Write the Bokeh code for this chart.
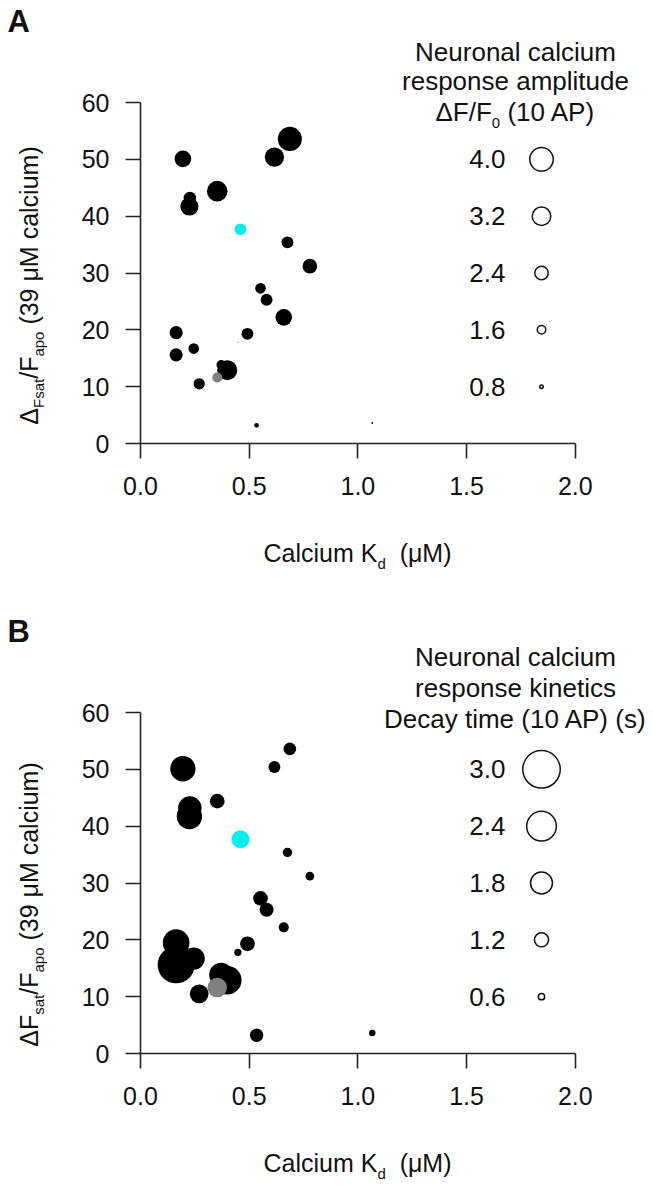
from math import pi
from bokeh.plotting import figure
from bokeh.models import Label, FixedTicker, ColumnDataSource, PrintfTickFormatter
from bokeh.layouts import column
from bokeh.embed import file_html
from bokeh.resources import INLINE
from bokeh.core.properties import value

# ---------------- data ----------------
kd_um = [0.195, 0.227, 0.225, 0.353, 0.616, 0.687, 0.676, 0.779, 0.552, 0.580,
         0.659, 0.164, 0.492, 0.448, 0.245, 0.164, 0.371, 0.399, 0.270, 0.534,
         1.066, 0.353, 0.460]
dfsat_fapo = [50.1, 43.2, 41.7, 44.4, 50.4, 53.6, 35.4, 31.2, 27.3, 25.3,
              22.2, 19.5, 19.3, 17.8, 16.7, 15.6, 13.85, 12.9, 10.5, 3.2,
              3.6, 11.6, 37.7]
amplitude_dff0 = [2.67, 2.0, 2.9, 3.3, 3.1, 3.85, 1.9, 2.35, 1.7, 1.9,
                  2.67, 2.1, 1.9, 0.15, 1.7, 2.1, 1.5, 3.2, 1.8, 0.75,
                  0.3, 1.6, 1.87]
decay_time_s = [1.95, 1.8, 1.95, 1.13, 0.92, 0.97, 0.72, 0.67, 1.13, 1.08,
                0.77, 2.05, 1.13, 0.56, 1.7, 2.85, 1.85, 2.2, 1.45, 1.03,
                0.5, 1.5, 1.38]
group = ["variant"] * 21 + ["parent", "highlighted"]

x_ticks = [0.0, 0.5, 1.0, 1.5, 2.0]
y_ticks = [0, 10, 20, 30, 40, 50, 60]
amp_legend = [4.0, 3.2, 2.4, 1.6, 0.8]
decay_legend = [3.0, 2.4, 1.8, 1.2, 0.6]

# ---------------- styling / layout ----------------
GROUP_COLOR = {"variant": "#000000", "parent": "#808080", "highlighted": "#00F0F0"}
FONT = "Liberation Sans"
TXT = "#111111"
AX = "#222222"
FIG_W = 653
X0_PX = 140          # page x of Kd = 0
PX_PER_X = 217.4
PX_PER_Y = 5.683
BASE_FIX = 0.44      # label baseline correction (em)

W = {' ': 278, '(': 333, ')': 333, '.': 278, '/': 278,
     'A': 667, 'B': 667, 'C': 722, 'D': 722, 'F': 611, 'K': 667, 'M': 833,
     'N': 722, 'P': 667, 'a': 556, 'c': 500, 'd': 556, 'e': 556, 'i': 222,
     'k': 500, 'l': 222, 'm': 833, 'n': 556, 'o': 556, 'p': 556, 'r': 333,
     's': 500, 't': 278, 'u': 556, 'y': 500, 'μ': 576, 'Δ': 668}
for d in "0123456789":
    W[d] = 556


def tw(s, size):
    return sum(W.get(c, 556) for c in s) / 1000.0 * size


def make_panel(oy, height, y0_px, scale_px, sizes, ylabel_pieces, ylab_center,
               title_lines, title_baselines, letter, legend_vals):
    def X(sx):
        return (sx - X0_PX) / PX_PER_X

    def Y(sy):
        return (y0_px - sy) / PX_PER_Y

    p = figure(width=FIG_W, height=height,
               x_range=(X(0), X(FIG_W)), y_range=(Y(oy + height), Y(oy)),
               output_backend="svg", toolbar_location=None,
               min_border_left=0, min_border_right=0,
               min_border_top=0, min_border_bottom=0)
    p.grid.visible = False
    p.outline_line_color = None

    for ax in (p.xaxis[0], p.yaxis[0]):
        ax.fixed_location = 0
        ax.axis_line_color = AX
        ax.axis_line_width = 1.6
        ax.major_tick_line_color = AX
        ax.major_tick_line_width = 1.6
        ax.major_tick_out = 15
        ax.major_tick_in = 0
        ax.minor_tick_line_color = None
        ax.major_label_text_font = FONT
        ax.major_label_text_font_size = "25px"
        ax.major_label_text_color = TXT
    p.xaxis.ticker = FixedTicker(ticks=x_ticks)
    p.xaxis.bounds = (x_ticks[0], x_ticks[-1])
    p.xaxis.formatter = PrintfTickFormatter(format="%.1f")
    p.xaxis.major_label_standoff = 18
    p.yaxis.ticker = FixedTicker(ticks=y_ticks)
    p.yaxis.bounds = (y_ticks[0], y_ticks[-1])
    p.yaxis.major_label_standoff = 16

    src = ColumnDataSource(dict(
        x=kd_um, y=dfsat_fapo,
        s=[scale_px * v for v in sizes],
        c=[GROUP_COLOR[g] for g in group]))
    p.scatter(x="x", y="y", size="s", fill_color="c", line_color=None, source=src)

    # size legend
    leg_y = [50 - 10 * i for i in range(len(legend_vals))]
    p.scatter(x=[X(541)] * len(legend_vals), y=leg_y,
              size=[scale_px * v - 1.5 for v in legend_vals],
              fill_color="white", line_color=TXT, line_width=1.5)
    p.text(x=[X(505)] * len(legend_vals), y=leg_y,
           text=[f"{v:.1f}" for v in legend_vals],
           text_align="right", text_baseline="middle",
           text_font=value(FONT), text_font_size="26px", text_color=TXT)

    def lab(sx, sy, text, size, align="left", rotated=False, bold=False):
        fix = BASE_FIX * size
        if rotated:
            sx -= fix
        else:
            sy -= fix
        p.add_layout(Label(x=X(sx), y=Y(sy), text=text, text_font=FONT,
                           text_font_size=f"{size}px", text_color=TXT,
                           text_align=align, text_baseline="alphabetic",
                           angle=pi / 2 if rotated else 0.0,
                           text_font_style="bold" if bold else "normal"))

    def rich(pieces, cx, base, size, sub_size, shift):
        widths = [tw(t, sub_size if s else size) for t, s in pieces]
        cur = cx - sum(widths) / 2
        for (t, s), w in zip(pieces, widths):
            fs = sub_size if s else size
            lead = len(t) - len(t.lstrip(" "))
            lab(cur + tw(" " * lead, fs), base + (shift if s else 0), t.strip(" "), fs)
            cur += w

    # legend title
    for line, base in zip(title_lines, title_baselines):
        if isinstance(line, str):
            lab(515, base, line, 26, align="center")
        else:
            rich(line, 515, base, 26, 15, 6)

    # x axis title
    rich([("Calcium K", False), ("d", True), ("  (μM)", False)],
         357, y0_px + 120, 25, 15, 7)

    # y axis title (rotated, reading upwards)
    widths = [tw(t, 15 if s else 25) for t, s in ylabel_pieces]
    cur = ylab_center + sum(widths) / 2
    for (t, s), w in zip(ylabel_pieces, widths):
        fs = 15 if s else 25
        lead = len(t) - len(t.lstrip(" "))
        lab(39 + (6 if s else 0), cur - tw(" " * lead, fs), t.strip(" "), fs,
            rotated=True)
        cur -= w

    # panel letter
    lab(7, oy + 35, letter, 31, bold=True)
    return p


pA = make_panel(
    oy=0, height=610, y0_px=443, scale_px=6.25, sizes=amplitude_dff0,
    ylabel_pieces=[("Δ", False), ("Fsat", True), ("/F", False), ("apo", True),
                   (" (39 μM calcium)", False)],
    ylab_center=285,
    title_lines=["Neuronal calcium", "response amplitude",
                 [("ΔF/F", False), ("0", True), (" (10 AP)", False)]],
    title_baselines=[63, 92, 123], letter="A", legend_vals=amp_legend)

pB = make_panel(
    oy=610, height=579, y0_px=1053, scale_px=13.0, sizes=decay_time_s,
    ylabel_pieces=[("ΔF", False), ("sat", True), ("/F", False), ("apo", True),
                   (" (39 μM calcium)", False)],
    ylab_center=904,
    title_lines=["Neuronal calcium", "response kinetics", "Decay time (10 AP) (s)"],
    title_baselines=[668, 699, 730], letter="B", legend_vals=decay_legend)

layout = column(pA, pB)
open("out.html", "w").write(file_html(layout, INLINE))
